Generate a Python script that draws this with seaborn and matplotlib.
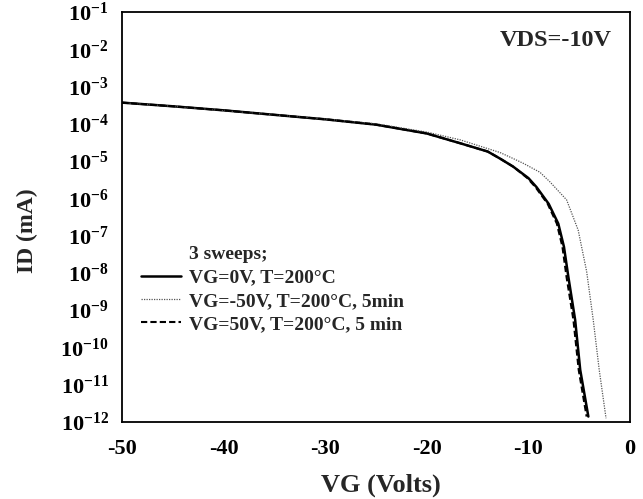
import matplotlib
matplotlib.use("Agg")
import matplotlib.pyplot as plt
import seaborn as sns
import pandas as pd
from matplotlib.lines import Line2D
from matplotlib.ticker import FixedLocator, FixedFormatter, MultipleLocator

# ---- data ----
vg_0v = [-50, -45, -40, -35, -30, -25, -20, -16.7, -14, -12.8, -11.5, -10, -9.2, -8,
         -7.06, -6.5, -6.07, -5.4, -4.9, -4.1]
id_0v = [3.7e-4, 2.95e-4, 2.3e-4, 1.74e-4, 1.32e-4, 9.5e-5, 5.5e-5, 3.0e-5, 1.8e-5, 1.17e-5,
         7.1e-6, 3.5e-6, 2.0e-6, 7.1e-7, 2.1e-7, 5.0e-8, 7.9e-9, 5.5e-10, 2.5e-11, 1.4e-12]

vg_m50v = [-50, -45, -40, -35, -30, -25, -20, -16.7, -12.8, -11.5, -10.5, -8.86, -7.9,
           -6.24, -5.1, -4.27, -3.62, -3.03, -2.36]
id_m50v = [3.7e-4, 2.95e-4, 2.25e-4, 1.74e-4, 1.35e-4, 1.0e-4, 6.0e-5, 3.7e-5, 1.7e-5, 1.17e-5,
           8.7e-6, 5.0e-6, 2.8e-6, 9.1e-7, 1.4e-7, 1.1e-8, 5.5e-10, 2.5e-11, 1.26e-12]

vg_50v = [-50, -45, -40, -35, -30, -25, -20, -16.7, -14, -12.8, -11.5, -10.1, -9.3, -8.1,
          -7.2, -6.65, -6.25, -5.57, -5.05, -4.27]
id_50v = [3.7e-4, 2.95e-4, 2.3e-4, 1.74e-4, 1.32e-4, 9.5e-5, 5.5e-5, 3.0e-5, 1.8e-5, 1.17e-5,
          7.1e-6, 3.5e-6, 2.0e-6, 7.1e-7, 2.1e-7, 5.0e-8, 7.9e-9, 5.5e-10, 2.5e-11, 1.4e-12]

labels = ["VG=0V, T=200°C", "VG=-50V, T=200°C, 5min", "VG=50V, T=200°C, 5 min"]
legend_title = "3 sweeps;"
y_exponents = [-1, -2, -3, -4, -5, -6, -7, -8, -9, -10, -11, -12]
x_ticks = [-50, -40, -30, -20, -10, 0]

# ---- style ----
sns.set_theme(style="white")
plt.rcParams["font.family"] = ["Liberation Serif", "DejaVu Serif"]
plt.rcParams["font.weight"] = "bold"
plt.rcParams["mathtext.fontset"] = "custom"
plt.rcParams["mathtext.rm"] = "Liberation Serif:bold"
plt.rcParams["mathtext.bf"] = "Liberation Serif:bold"
plt.rcParams["mathtext.it"] = "Liberation Serif:italic:bold"

fig = plt.figure(figsize=(6.43, 4.99), dpi=100)
ax = fig.add_axes([0.1897, 0.1543, 0.7901, 0.8217])

df0 = pd.DataFrame({"VG": vg_0v, "ID": id_0v})
df1 = pd.DataFrame({"VG": vg_m50v, "ID": id_m50v})
df2 = pd.DataFrame({"VG": vg_50v, "ID": id_50v})

sns.lineplot(data=df0, x="VG", y="ID", ax=ax, color="black", lw=1.8, sort=False)
sns.lineplot(data=df1, x="VG", y="ID", ax=ax, color="#555555", lw=0.9, ls=(0, (1, 1)), sort=False)
sns.lineplot(data=df2, x="VG", y="ID", ax=ax, color="black", lw=1.5, ls=(0, (3, 1.5)), sort=False)

ax.set_yscale("log")
ax.set_xlim(-50, 0)
ax.set_ylim(1e-12, 1e-1)

yt = [10.0 ** e for e in y_exponents]
ax.yaxis.set_major_locator(FixedLocator(yt))
ax.yaxis.set_major_formatter(FixedFormatter([r"$10^{%d}$" % e for e in y_exponents]))
ax.yaxis.set_minor_locator(FixedLocator([]))
ax.set_xticks(x_ticks)
ax.set_xticklabels([str(t) for t in x_ticks])
ax.xaxis.set_minor_locator(MultipleLocator(5))

ax.tick_params(axis="both", which="both", direction="inout", length=9, width=1.2,
               color="black", labelcolor="black")
ax.tick_params(axis="x", which="major", pad=8, labelsize=16)
ax.tick_params(axis="y", which="major", pad=5, labelsize=16)
for lab in ax.get_xticklabels():
    lab.set_fontweight("bold")

for side in ["left", "bottom", "right", "top"]:
    ax.spines[side].set_color("black")
    ax.spines[side].set_linewidth(1.3)

ax.set_xlabel("VG (Volts)", fontsize=19, fontweight="bold")
ax.xaxis.set_label_coords(0.51, -0.125)
ax.set_ylabel("ID (mA)", fontsize=17, fontweight="bold")
ax.yaxis.set_label_coords(-0.165, 0.466)

ax.text(0.965, 0.93, "VDS=-10V", transform=ax.transAxes, ha="right", va="center",
        fontsize=17.5, fontweight="bold")

handles = [Line2D([], [], color="none"),
           Line2D([], [], color="black", lw=1.8),
           Line2D([], [], color="#555555", lw=0.9, ls=(0, (1, 1))),
           Line2D([], [], color="black", lw=1.5, ls=(0, (3, 1.5)))]
leg = ax.legend(handles, [legend_title] + labels, loc="upper left",
                bbox_to_anchor=(0.022, 0.45), frameon=False, fontsize=14,
                handlelength=2.05, handletextpad=0.4, labelspacing=0.3,
                borderaxespad=0)
for t in leg.get_texts():
    t.set_fontweight("bold")

fig.savefig("out.png", dpi=100)
